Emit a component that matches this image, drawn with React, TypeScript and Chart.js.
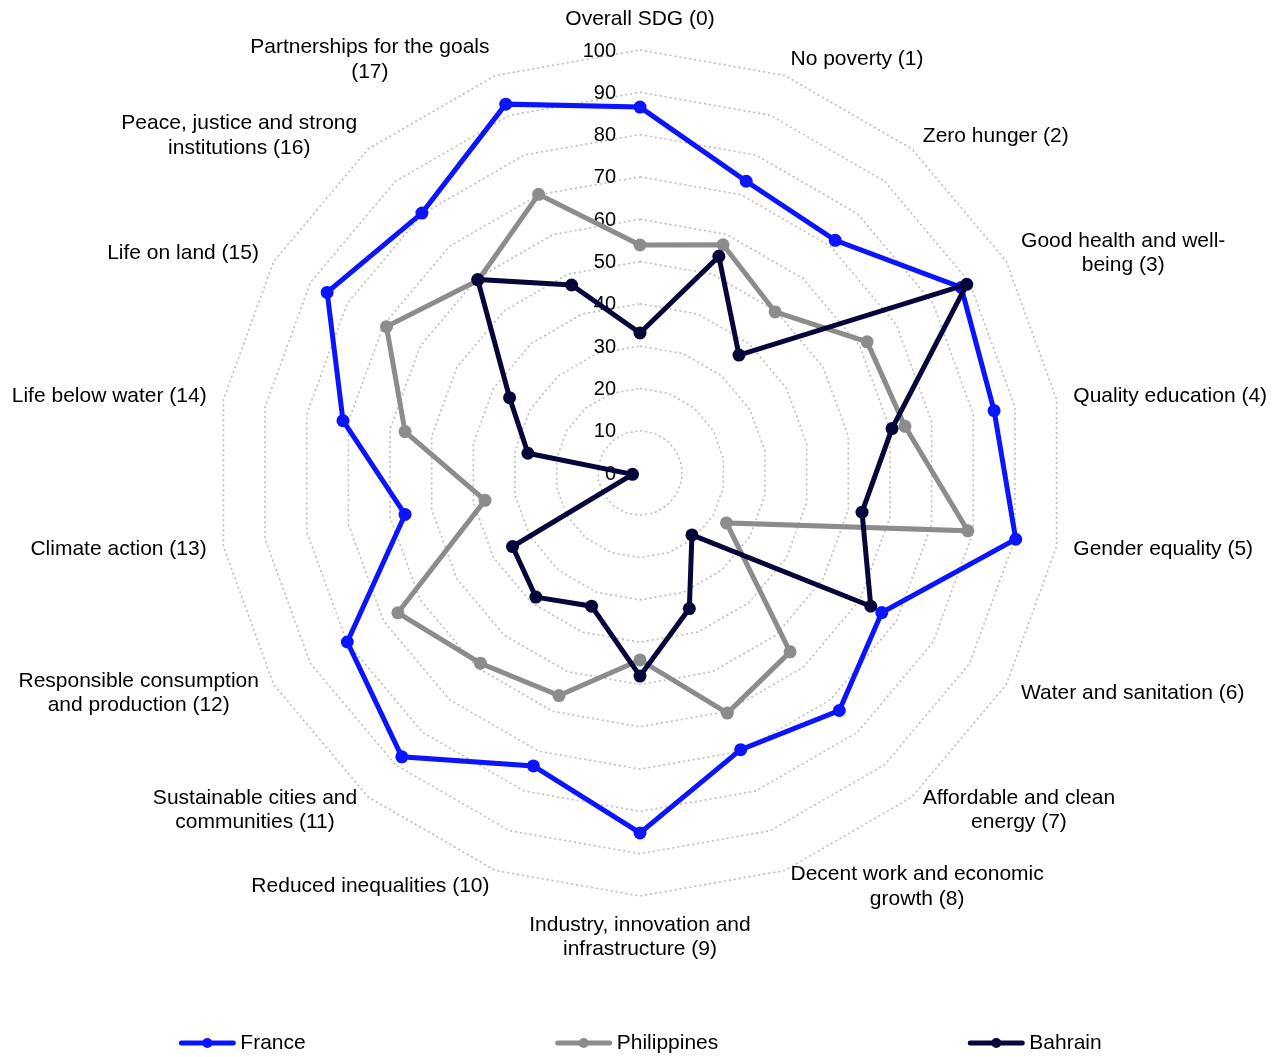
import React, { useEffect, useRef } from "react";
import { Chart, registerables } from "chart.js";

Chart.register(...registerables);

const categories: (string | string[])[] = [
  "Overall SDG (0)",
  "No poverty (1)",
  "Zero hunger (2)",
  ["Good health and well-", "being (3)"],
  "Quality education (4)",
  "Gender equality (5)",
  "Water and sanitation (6)",
  ["Affordable and clean", "energy (7)"],
  ["Decent work and economic", "growth (8)"],
  ["Industry, innovation and", "infrastructure (9)"],
  "Reduced inequalities (10)",
  ["Sustainable cities and", "communities (11)"],
  ["Responsible consumption", "and production (12)"],
  "Climate action (13)",
  "Life below water (14)",
  "Life on land (15)",
  ["Peace, justice and strong", "institutions (16)"],
  ["Partnerships for the goals", "(17)"],
];

const franceValues = [86.5, 73.4, 71.8, 87.7, 85.0, 90.2, 66.0, 73.3, 69.6, 85.1, 73.7, 87.6, 79.9, 56.4, 71.3, 85.4, 80.2, 92.8];
const philippinesValues = [53.9, 57.4, 49.7, 62.0, 63.6, 78.7, 23.6, 55.2, 60.4, 44.2, 56.0, 58.7, 66.1, 37.2, 56.4, 69.2, 59.5, 70.1];
const bahrainValues = [33.1, 54.5, 36.4, 89.2, 60.5, 53.3, 63.0, 19.1, 34.1, 48.0, 33.5, 38.3, 34.8, 1.8, 26.9, 35.6, 59.7, 47.3];

const seriesNames = ["France", "Philippines", "Bahrain"];
const seriesColors = ["#0a14ff", "#8c8c8c", "#06063a"];
const tickValues = [0, 10, 20, 30, 40, 50, 60, 70, 80, 90, 100];

const FONT = '"Liberation Sans", Arial, Helvetica, sans-serif';

const customPlugin = {
  id: "customText",
  beforeDatasetsDraw(chart: any) {
    const scale = chart.scales.r;
    const ctx = chart.ctx;
    ctx.save();
    ctx.font = `20px ${FONT}`;
    ctx.fillStyle = "#000";
    ctx.textAlign = "right";
    ctx.textBaseline = "middle";
    tickValues.forEach((v) => {
      const d = scale.getDistanceFromCenterForValue(v);
      ctx.fillText(String(v), scale.xCenter - 24, scale.yCenter - d + 1);
    });
    ctx.restore();
  },
  afterDraw(chart: any) {
    const scale = chart.scales.r;
    const ctx = chart.ctx;
    const labels = chart.data.labels as (string | string[])[];
    const n = labels.length;
    ctx.save();
    ctx.font = `21px ${FONT}`;
    ctx.fillStyle = "#000";
    ctx.textAlign = "center";
    ctx.textBaseline = "middle";
    const lineH = 24.5;
    labels.forEach((lab, i) => {
      const lines = Array.isArray(lab) ? lab : [lab];
      const angle = Math.round((i * 360) / n);
      const pos = scale.getPointPosition(i, scale.drawingArea + 17);
      const maxW = Math.max(...lines.map((l) => ctx.measureText(l).width));
      let cx = pos.x;
      if (angle > 0 && angle < 180) cx = pos.x + maxW / 2;
      else if (angle > 180) cx = pos.x - maxW / 2;
      const m = lines.length;
      lines.forEach((l, k) => {
        let y: number;
        if (angle === 0) y = pos.y - 14 - (m - 1 - k) * lineH;
        else if (angle === 180) y = pos.y + 12 + k * lineH;
        else y = pos.y + (k - (m - 1) / 2) * lineH;
        ctx.fillText(l, cx, y);
      });
    });

    // legend
    const legendY = 1035;
    const markerW = 56;
    const gapText = 5;
    const gapItems = 250;
    const items = chart.data.datasets.map((ds: any) => ({
      text: ds.label,
      color: ds.borderColor,
      w: markerW + gapText + ctx.measureText(ds.label).width,
    }));
    const total = items.reduce((s: number, it: any) => s + it.w, 0) + gapItems * (items.length - 1);
    let x = 632.5 - total / 2;
    items.forEach((it: any) => {
      ctx.strokeStyle = it.color;
      ctx.lineWidth = 5;
      ctx.lineCap = "round";
      ctx.beginPath();
      ctx.moveTo(x + 2, legendY);
      ctx.lineTo(x + markerW - 2, legendY);
      ctx.stroke();
      ctx.fillStyle = it.color;
      ctx.beginPath();
      ctx.arc(x + markerW / 2, legendY, 5, 0, Math.PI * 2);
      ctx.fill();
      ctx.fillStyle = "#000";
      ctx.textAlign = "left";
      ctx.fillText(it.text, x + markerW + gapText, legendY);
      x += it.w + gapItems;
    });
    ctx.restore();
  },
};

export default function App() {
  const ref = useRef<HTMLCanvasElement | null>(null);
  useEffect(() => {
    if (!ref.current) return;
    const seriesValues = [franceValues, philippinesValues, bahrainValues];
    const chart = new Chart(ref.current, {
      type: "radar",
      data: {
        labels: categories as any,
        datasets: seriesValues.map((vals, i) => ({
          label: seriesNames[i],
          data: vals,
          borderColor: seriesColors[i],
          backgroundColor: seriesColors[i],
          pointBackgroundColor: seriesColors[i],
          pointBorderColor: seriesColors[i],
          pointBorderWidth: 0,
          pointRadius: 6.5,
          borderWidth: 5,
          fill: false,
          tension: 0,
          order: 2 - i,
        })),
      },
      options: {
        animation: false,
        responsive: true,
        maintainAspectRatio: false,
        plugins: {
          legend: { display: false },
          tooltip: { enabled: false },
        },
        scales: {
          r: {
            min: 0,
            max: 100,
            ticks: { display: false, stepSize: 10 },
            pointLabels: { display: false },
            angleLines: { display: false },
            grid: {
              circular: false,
              color: "#bdbdbd",
              lineWidth: 1.6,
            },
            border: { dash: [2, 3], dashOffset: 0 },
            afterFit: (s: any) => {
              s.xCenter = 632;
              s.yCenter = 465;
              s.drawingArea = 423;
            },
          } as any,
        },
      },
      plugins: [customPlugin as any],
    });
    return () => chart.destroy();
  }, []);
  return (
    <div style={{ position: "absolute", left: 8, top: 8, width: 1266, height: 1049 }}>
      <canvas ref={ref} />
    </div>
  );
}
